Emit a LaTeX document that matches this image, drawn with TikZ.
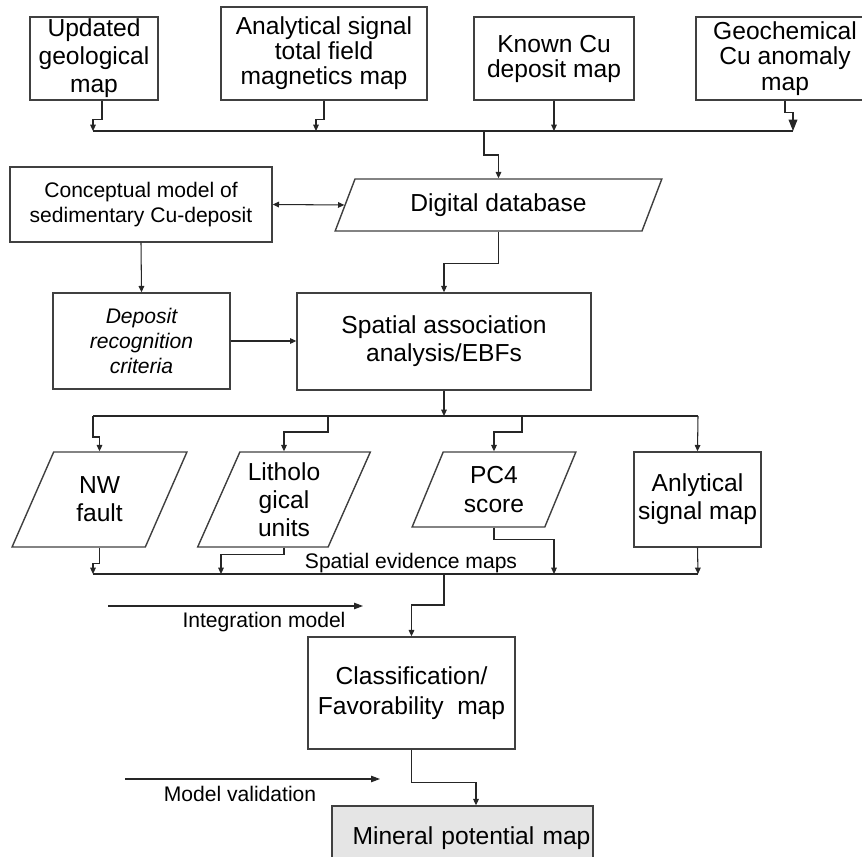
\documentclass[tikz,border=0pt]{standalone}
\usepackage{fontspec}
\setmainfont{Liberation Sans}
\usetikzlibrary{arrows.meta,calc,shapes.geometric}

\tikzset{
	mapbox/.style={draw=black!75, line width=0.8pt, rectangle, inner sep=0pt, align=center, font=\fontsize{14}{16}\selectfont},
	slantbox/.style 2 args={mapbox, trapezium, trapezium left angle=#1, trapezium right angle=#2, trapezium stretches=true},
	link/.style={draw=black!85, line width=0.6pt, -{Triangle[length=3.6pt,width=3.2pt]}},
	bus/.style={draw=black!85, line width=0.9pt},
	note/.style={inner sep=0pt, font=\fontsize{12}{14}\selectfont},
}

\begin{document}
\begin{tikzpicture}[x=0.02cm, y=-0.02cm]
			%%%%% START %%%%%
			\useasboundingbox (0,0) rectangle (862,857);
			
			% input maps
			\node[mapbox, font=\fontsize{14}{15.9}\selectfont, minimum width=2.56cm, minimum height=1.66cm] (geo) at (94,58.5) {Updated\\geological\\map};
			\node[mapbox, font=\fontsize{14}{14.2}\selectfont, minimum width=4.12cm, minimum height=1.86cm] (mag) at (324,53.5) {Analytical signal\\total field\\magnetics map};
			\node[mapbox, font=\fontsize{14}{14.2}\selectfont, minimum width=3.2cm, minimum height=1.66cm] (cu) at (554,58.5) {Known Cu\\deposit map};
			\node[mapbox, font=\fontsize{14}{14.7}\selectfont, minimum width=3.56cm, minimum height=1.66cm] (geochem) at (785,58.5) {Geochemical\\Cu anomaly\\map};
			
			\foreach \n/\x in {0/484,1/93,2/316,3/554,4/793}
				\coordinate (a\n) at (\x,131);
			\draw[link] ($(geo.south)+(8,0)$) -- ++(0,19) -| (a1);
			\draw[link] (mag.south) -- ++(0,19) -| (a2);
			\draw[link] (cu.south) -- (a3);
			\draw[link, -{Triangle[length=6.5pt,width=5pt]}] (geochem.south) -- ++(0,12) -| (a4);
			\draw[bus] (a1) -- (a4);
			
			% database and model
			\node[slantbox={62}{118}, minimum width=6.54cm, minimum height=1.04cm] (db) at (498.5,205) {Digital database};
			\node[mapbox, font=\fontsize{12}{14.2}\selectfont, minimum width=5.24cm, minimum height=1.5cm] (concept) at (141,204.5) {Conceptual model of\\sedimentary Cu-deposit};
			\node[mapbox, font=\fontsize{12}{14.2}\selectfont\itshape, minimum width=3.54cm, minimum height=1.92cm] (deposit) at (141.5,341) {Deposit\\recognition\\criteria};
			\node[mapbox, minimum width=5.88cm, minimum height=1.94cm] (spatial) at (444,341.5) {Spatial association\\analysis/EBFs};
			
			\draw[link] (a0) -- ++(0,24) -| (db.center |- db.north);
			\draw[link, {Triangle[length=3.6pt,width=3.2pt]}-{Triangle[length=3.6pt,width=3.2pt]}] (concept.east) -- (db.west);
			\draw[link] (db.center |- db.south) -- ++(0,32) -| (spatial.north);
			\draw[link] (concept.south) -- (deposit.north);
			\draw[link] (deposit.east) -- (deposit.east -| spatial.west);
			
			% evidence maps
			\foreach \n/\x in {0/444,1/93,2/328,3/522,4/698}
				\coordinate (b\n) at (\x,416);
			\foreach \n/\x in {0/444,1/93,2/221,3/554,4/698}
				\coordinate (c\n) at (\x,574);
			
			\node[slantbox={65}{115}, minimum width=3.5cm, minimum height=1.9cm] (nw) at (99.5,499.5) {NW\\fault};
			\node[slantbox={65}{115}, minimum width=3.48cm, minimum height=1.9cm] (litho) at (284,499.5) {Litholo\\gical\\units};
			\node[slantbox={68}{112}, minimum width=3.28cm, minimum height=1.5cm] (pc4) at (494,489.5) {PC4\\score};
			\node[mapbox, minimum width=2.54cm, minimum height=1.9cm] (anly) at (697.5,499.5) {Anlytical\\signal map};
			
			\draw[link] (spatial.south) -- (b0);
			\draw[bus] (b1) -- (b4);
			\draw[link] (b1) -- ++(0,21) -| (nw.center |- nw.north);
			\draw[link] (b2) -- ++(0,16) -| (litho.center |- litho.north);
			\draw[link] (b3) -- ++(0,16) -| (pc4.center |- pc4.north);
			\draw[link] (b4) -- (anly.north);
			
			\draw[link] (nw.center |- nw.south) -- ++(0,16) -| (c1);
			\draw[link] (litho.center |- litho.south) -- ++(0,7) -| (c2);
			\draw[link] (pc4.center |- pc4.south) -- ++(0,12) -| (c3);
			\draw[link] (anly.south) -- (c4);
			\draw[bus] (c1) -- (c4);
			\node[note] (evid) at (411,563) {Spatial evidence maps};
			
			% integration and validation
			\node[mapbox, minimum width=4.14cm, minimum height=2.24cm, font=\fontsize{14}{17}\selectfont] (class) at (411.5,693) {Classification/\\Favorability~~map};
			\node[mapbox, fill=black!10, minimum width=5.22cm, minimum height=1.28cm, text width=5.12cm, align=right] (mineral) at (462.5,838) {Mineral potential map};
			
			\draw[link] (c0) -- ++(0,31) -| (class.north);
			\draw[link] (class.south) -- ++(0,33) -| ($(mineral.north)+(13.5,0)$);
			
			\coordinate (intA) at (108,606);
			\coordinate (intB) at (363,606);
			\draw[link, -{Triangle[length=5pt,width=3.6pt]}] (intA) -- (intB);
			\node[note] (intlab) at (264,622) {Integration model};
			
			\coordinate (valA) at (125,779);
			\coordinate (valB) at (380,779);
			\draw[link, -{Triangle[length=5pt,width=3.6pt]}] (valA) -- (valB);
			\node[note] (vallab) at (240,794) {Model validation};
			
			%%%%% END %%%%%
\end{tikzpicture}
\end{document}
